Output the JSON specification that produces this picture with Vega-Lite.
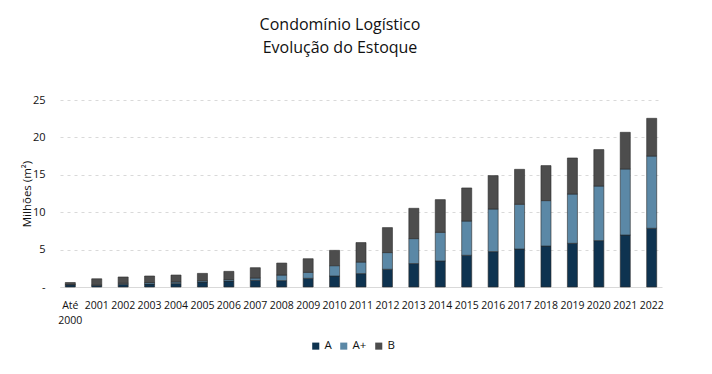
{
  "$schema": "https://vega.github.io/schema/vega-lite/v6.json",
  "autosize": {"type": "none"},
  "width": 602,
  "height": 187,
  "padding": {"left": 60, "top": 100, "right": 50, "bottom": 87},
  "background": "white",
  "title": {
    "text": ["Condomínio Logístico", "Evolução do Estoque"],
    "font": "Open Sans",
    "fontSize": 16,
    "fontWeight": "normal",
    "color": "#111111",
    "anchor": "middle",
    "dx": -21,
    "offset": 38,
    "lineHeight": 23
  },
  "data": {
    "values": [
      {"ano": "Até 2000", "classe": "A", "v": 0.3},
      {"ano": "Até 2000", "classe": "A+", "v": 0.05},
      {"ano": "Até 2000", "classe": "B", "v": 0.25},
      {"ano": "2001", "classe": "A", "v": 0.2},
      {"ano": "2001", "classe": "A+", "v": 0.1},
      {"ano": "2001", "classe": "B", "v": 0.8},
      {"ano": "2002", "classe": "A", "v": 0.35},
      {"ano": "2002", "classe": "A+", "v": 0.15},
      {"ano": "2002", "classe": "B", "v": 0.84},
      {"ano": "2003", "classe": "A", "v": 0.4},
      {"ano": "2003", "classe": "A+", "v": 0.2},
      {"ano": "2003", "classe": "B", "v": 0.87},
      {"ano": "2004", "classe": "A", "v": 0.45},
      {"ano": "2004", "classe": "A+", "v": 0.22},
      {"ano": "2004", "classe": "B", "v": 0.93},
      {"ano": "2005", "classe": "A", "v": 0.67},
      {"ano": "2005", "classe": "A+", "v": 0.18},
      {"ano": "2005", "classe": "B", "v": 0.97},
      {"ano": "2006", "classe": "A", "v": 0.8},
      {"ano": "2006", "classe": "A+", "v": 0.2},
      {"ano": "2006", "classe": "B", "v": 1.09},
      {"ano": "2007", "classe": "A", "v": 0.9},
      {"ano": "2007", "classe": "A+", "v": 0.3},
      {"ano": "2007", "classe": "B", "v": 1.38},
      {"ano": "2008", "classe": "A", "v": 0.85},
      {"ano": "2008", "classe": "A+", "v": 0.75},
      {"ano": "2008", "classe": "B", "v": 1.6},
      {"ano": "2009", "classe": "A", "v": 1.16},
      {"ano": "2009", "classe": "A+", "v": 0.8},
      {"ano": "2009", "classe": "B", "v": 1.82},
      {"ano": "2010", "classe": "A", "v": 1.47},
      {"ano": "2010", "classe": "A+", "v": 1.38},
      {"ano": "2010", "classe": "B", "v": 2.05},
      {"ano": "2011", "classe": "A", "v": 1.79},
      {"ano": "2011", "classe": "A+", "v": 1.55},
      {"ano": "2011", "classe": "B", "v": 2.6},
      {"ano": "2012", "classe": "A", "v": 2.37},
      {"ano": "2012", "classe": "A+", "v": 2.23},
      {"ano": "2012", "classe": "B", "v": 3.34},
      {"ano": "2013", "classe": "A", "v": 3.13},
      {"ano": "2013", "classe": "A+", "v": 3.34},
      {"ano": "2013", "classe": "B", "v": 4.05},
      {"ano": "2014", "classe": "A", "v": 3.48},
      {"ano": "2014", "classe": "A+", "v": 3.83},
      {"ano": "2014", "classe": "B", "v": 4.37},
      {"ano": "2015", "classe": "A", "v": 4.24},
      {"ano": "2015", "classe": "A+", "v": 4.58},
      {"ano": "2015", "classe": "B", "v": 4.42},
      {"ano": "2016", "classe": "A", "v": 4.73},
      {"ano": "2016", "classe": "A+", "v": 5.7},
      {"ano": "2016", "classe": "B", "v": 4.46},
      {"ano": "2017", "classe": "A", "v": 5.08},
      {"ano": "2017", "classe": "A+", "v": 5.98},
      {"ano": "2017", "classe": "B", "v": 4.67},
      {"ano": "2018", "classe": "A", "v": 5.48},
      {"ano": "2018", "classe": "A+", "v": 6.07},
      {"ano": "2018", "classe": "B", "v": 4.68},
      {"ano": "2019", "classe": "A", "v": 5.84},
      {"ano": "2019", "classe": "A+", "v": 6.59},
      {"ano": "2019", "classe": "B", "v": 4.82},
      {"ano": "2020", "classe": "A", "v": 6.2},
      {"ano": "2020", "classe": "A+", "v": 7.3},
      {"ano": "2020", "classe": "B", "v": 4.87},
      {"ano": "2021", "classe": "A", "v": 6.95},
      {"ano": "2021", "classe": "A+", "v": 8.83},
      {"ano": "2021", "classe": "B", "v": 4.9},
      {"ano": "2022", "classe": "A", "v": 7.85},
      {"ano": "2022", "classe": "A+", "v": 9.66},
      {"ano": "2022", "classe": "B", "v": 5.04}
    ]
  },
  "mark": {"type": "bar", "stroke": "#2a2a2a", "strokeWidth": 0.6},
  "encoding": {
    "x": {
      "field": "ano",
      "type": "ordinal",
      "sort": null,
      "title": null,
      "scale": {"paddingInner": 0.62, "paddingOuter": 0.2},
      "axis": {
        "labelAngle": 0,
        "labelFont": "Open Sans",
        "labelFontSize": 10.5,
        "labelColor": "#111111",
        "labelPadding": 13,
        "labelOverlap": false,
        "labelLineHeight": 15,
        "ticks": false,
        "domainColor": "#d9d9d9",
        "domainWidth": 1,
        "grid": false,
        "labelExpr": "datum.value == 'Até 2000' ? ['Até', '2000'] : datum.label"
      }
    },
    "y": {
      "field": "v",
      "type": "quantitative",
      "aggregate": "sum",
      "stack": "zero",
      "title": "Milhões (m²)",
      "scale": {"domain": [0, 25]},
      "axis": {
        "values": [0, 5, 10, 15, 20, 25],
        "labelExpr": "datum.value == 0 ? '-' : datum.label",
        "labelFont": "Open Sans",
        "labelFontSize": 11,
        "labelColor": "#111111",
        "labelPadding": 15,
        "titleFont": "Open Sans",
        "titleFontSize": 11.5,
        "titleFontWeight": "normal",
        "titleColor": "#111111",
        "titlePadding": 0,
        "ticks": false,
        "domain": false,
        "gridColor": "#d9d9d9",
        "gridDash": [3, 4],
        "gridWidth": 1
      }
    },
    "color": {
      "field": "classe",
      "type": "nominal",
      "title": null,
      "scale": {"domain": ["A", "A+", "B"], "range": ["#0e3350", "#5b88a6", "#4d4d4d"]},
      "legend": {
        "orient": "none",
        "legendX": 250,
        "legendY": 240,
        "direction": "horizontal",
        "symbolType": "square",
        "symbolSize": 50,
        "symbolStrokeWidth": 0,
        "labelOffset": 3,
        "labelFont": "Open Sans",
        "labelFontSize": 11.5,
        "labelColor": "#111111",
        "columnPadding": 6
      }
    },
    "order": {"field": "classe", "sort": "ascending"}
  },
  "config": {"view": {"stroke": null}}
}
